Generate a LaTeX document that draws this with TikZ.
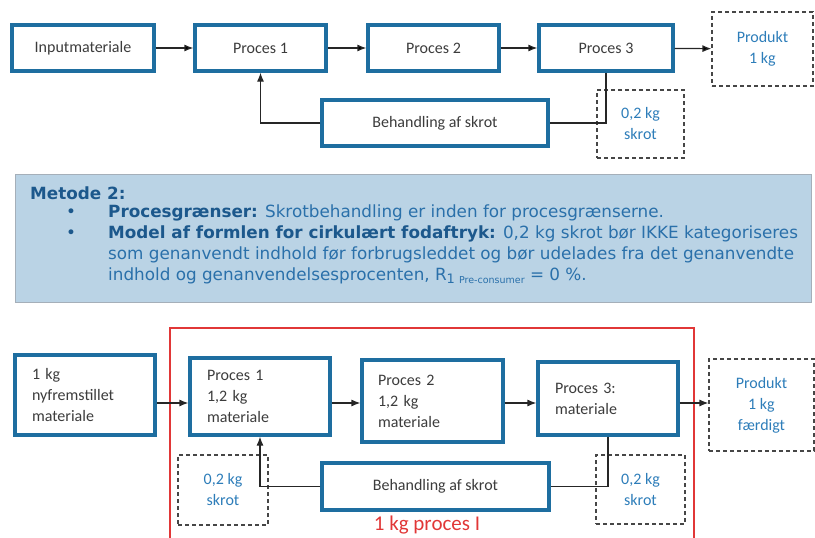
\documentclass[tikz,border=0pt]{standalone}
\usepackage{fontspec}
\setmainfont{Carlito}
\newfontfamily\bandfont{DejaVu Sans}
\usetikzlibrary{arrows.meta}
\definecolor{boxblue}{RGB}{30,110,160}
\definecolor{textgrey}{RGB}{60,60,60}
\definecolor{wasteblue}{RGB}{45,125,185}
\definecolor{dashgrey}{RGB}{70,70,70}
\definecolor{bandfill}{RGB}{186,211,229}
\definecolor{bandline}{RGB}{165,175,185}
\definecolor{banddark}{RGB}{28,88,140}
\definecolor{bandtext}{RGB}{42,112,170}
\definecolor{framered}{RGB}{225,55,55}
\tikzset{basic/.style={draw=boxblue,line width=3.2pt,fill=white,
                       text=textgrey,inner sep=0pt}}
\tikzset{listbox/.style={basic,align=left,inner xsep=17pt}}
\tikzset{waste/.style={draw=dashgrey,line width=1.1pt,dash pattern=on 4pt off 3pt,
                       text=wasteblue,align=center,inner sep=0pt}}

\begin{document}
\begin{tikzpicture}[x=1pt,y=-1pt,>={Latex[length=9pt,width=7pt]},
                    font=\fontsize{16}{21}\selectfont]
  \tikzstyle{flow}=[->,line width=1.2pt,draw=black!85]
  \tikzstyle{bandtxt}=[anchor=west,inner sep=0pt,text=bandtext,
                       font=\bandfont\fontsize{16.8}{20}\selectfont]
  \useasboundingbox (0,0) rectangle (815,538);

  % Upper chain: input, three processes and product
  \node (input) [basic,minimum width=142pt,minimum height=46pt] at (83,48) {Inputmateriale};
  \node (p1t)   [basic,minimum width=131pt,minimum height=46pt] at (260.5,48) {Proces 1};
  \node (p2t)   [basic,minimum width=131pt,minimum height=46pt] at (433.5,48) {Proces 2};
  \node (p3t)   [basic,minimum width=134pt,minimum height=46pt] at (606,48) {Proces 3};
  \node (prodt) [waste,minimum width=101pt,minimum height=74pt] at (762.5,49) {Produkt\\1 kg};
  % Scrap loop of the upper chain
  \node (behandt) [basic,minimum width=226pt,minimum height=46pt] at (435,123) {Behandling af skrot};
  \node (skrott)  [waste,minimum width=87pt,minimum height=68pt] at (640.5,124) {0,2 kg\\skrot};

  \path[flow]
      (input) edge (p1t)
      (p1t) edge (p2t)
      (p2t) edge (p3t)
      (p3t) edge (prodt);
  \draw[line width=1.2pt,draw=black!85] (p3t.south) |- (behandt.east);
  \draw[flow] (behandt.west) -| (p1t.south);

  % Text band with method 2
  \fill[bandfill,draw=bandline,line width=1pt] (15,174) rectangle (811,302);
  \node (metode) [bandtxt,text=banddark,font=\bandfont\bfseries\fontsize{16.8}{20}\selectfont]
      at (30,193) {Metode 2:};
  \node (bulA) [bandtxt,text=banddark] at (66,213) {•};
  \node (bulB) [bandtxt,text=banddark] at (66,234) {•};
  \node (lineA) [bandtxt] at (108,213)
      {\textcolor{banddark}{\bfseries Procesgrænser:} Skrotbehandling er inden for procesgrænserne.};
  \node (lineB) [bandtxt] at (108,234)
      {\textcolor{banddark}{\bfseries Model af formlen for cirkulært fodaftryk:} 0,2 kg skrot bør IKKE kategoriseres};
  \node (lineC) [bandtxt] at (108,255)
      {som genanvendt indhold før forbrugsleddet og bør udelades fra det genanvendte};
  \node (lineD) [bandtxt] at (108,276)
      {indhold og genanvendelsesprocenten, R\raisebox{-0.3ex}{\fontsize{13}{13}\selectfont 1
       \fontsize{9.5}{9.5}\selectfont Pre-consumer} = 0 \%.};

  % Lower chain inside the process boundary
  \draw[framered,line width=1.4pt] (170,540) |- (694,328) -- (694,540);
  \node (grens) [text=framered,font=\fontsize{21}{24}\selectfont] at (427,525) {1 kg proces I};

  \node (newmat) [listbox,text width=106pt,minimum height=80pt] at (85,395)
      {1 kg\\nyfremstillet\\materiale};
  \node (p1b) [listbox,text width=106pt,minimum height=77pt] at (260,396.5)
      {Proces 1\\1,2 kg\\materiale};
  \node (p2b) [listbox,inner xsep=16pt,text width=109pt,minimum height=82pt] at (432.5,401)
      {Proces 2\\1,2 kg\\materiale};
  \node (p3b) [listbox,text width=106pt,minimum height=73pt] at (608,398.5)
      {Proces 3:\\materiale};
  \node (prodb) [waste,minimum width=105pt,minimum height=92pt] at (761.5,405)
      {Produkt\\1 kg\\færdigt};
  \node (behandb) [basic,minimum width=227pt,minimum height=47pt] at (435.5,486.5)
      {Behandling af skrot};
  \node (skrotL) [waste,minimum width=90pt,minimum height=70pt] at (223,490) {0,2 kg\\skrot};
  \node (skrotR) [waste,minimum width=89pt,minimum height=69pt] at (640.5,489.5) {0,2 kg\\skrot};

  \coordinate (rowb) at (0,403);
  \draw[flow] (newmat.east |- rowb) -- (p1b.west |- rowb);
  \draw[flow] (p1b.east |- rowb) -- (p2b.west |- rowb);
  \draw[flow] (p2b.east |- rowb) -- (p3b.west |- rowb);
  \draw[flow] (p3b.east |- rowb) -- (prodb.west |- rowb);
  \draw[line width=1.2pt,draw=black!85] (p3b.south) |- (behandb.east);
  \draw[flow] (behandb.west) -| (p1b.south);
\end{tikzpicture}
\end{document}
